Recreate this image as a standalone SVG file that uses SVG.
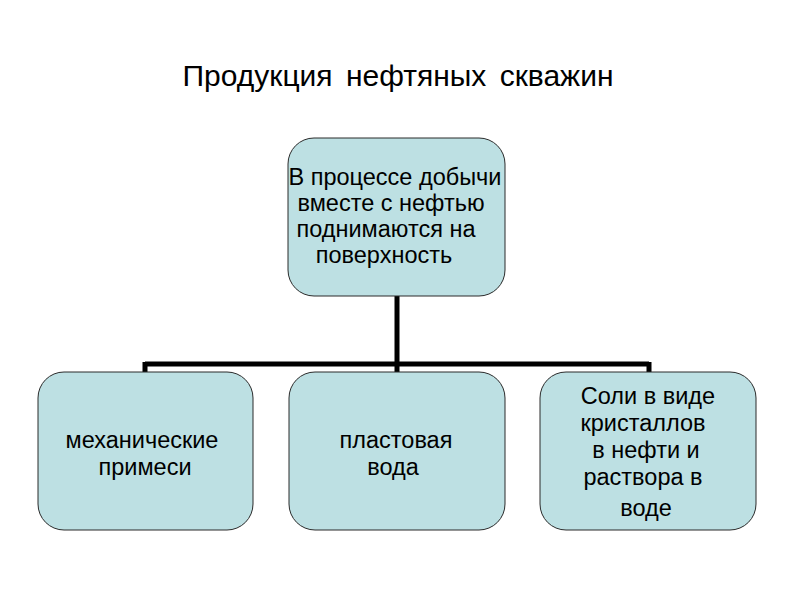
<svg xmlns="http://www.w3.org/2000/svg" width="800" height="600" viewBox="0 0 800 600">
<style>
.node rect{fill:#bde0e3;stroke:#2b2b2b;stroke-width:1}
text{font-family:"Liberation Sans",Arial,sans-serif;fill:#000}
.t{font-size:23.5px;text-anchor:middle}
.title{font-size:30px;text-anchor:middle;word-spacing:5px}
.conn{fill:none;stroke:#000;stroke-width:5}
</style>
<rect width="800" height="600" fill="#fff"/>
<text class="title" x="398" y="86">Продукция нефтяных скважин</text>
<g id="connectors">
<path class="conn" d="M397 296V364M145 364H649M145 362V373M397 362V373M649 362V373"/>
</g>
<g id="n0" class="node">
<rect x="288" y="138" width="217" height="158" rx="26"/>
<text class="t"><tspan x="395" y="185">В процессе добычи</tspan><tspan x="391" y="211">вместе с нефтью</tspan><tspan x="386" y="237">поднимаются на</tspan><tspan x="384" y="263">поверхность</tspan></text>
</g>
<g id="n1" class="node">
<rect x="38" y="372" width="215" height="158" rx="26"/>
<text class="t"><tspan x="142" y="448">механические</tspan><tspan x="145" y="475">примеси</tspan></text>
</g>
<g id="n2" class="node">
<rect x="289" y="372" width="216" height="158" rx="26"/>
<text class="t"><tspan x="396" y="448">пластовая</tspan><tspan x="393" y="475">вода</tspan></text>
</g>
<g id="n3" class="node">
<rect x="540" y="372" width="216" height="158" rx="26"/>
<text class="t"><tspan x="648" y="404">Соли в виде</tspan><tspan x="643" y="431">кристаллов</tspan><tspan x="646" y="458">в нефти и</tspan><tspan x="643" y="485">раствора в</tspan><tspan x="646" y="516">воде</tspan></text>
</g>
</svg>
